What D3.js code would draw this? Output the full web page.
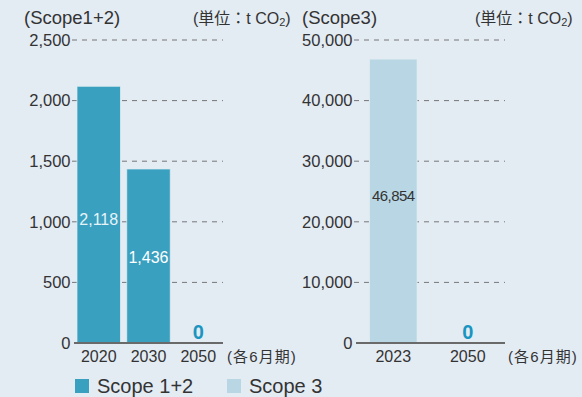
<!DOCTYPE html>
<html>
<head>
<meta charset="utf-8">
<script src="https://cdn.jsdelivr.net/npm/d3@7/dist/d3.min.js"></script>
<style>
  html, body { margin: 0; padding: 0; background: #e3ebf3; }
  svg { display: block; }
  text { font-family: "Liberation Sans", Arial, "Noto Sans CJK JP", sans-serif; }
</style>
</head>
<body>
<svg id="chart" width="582" height="397"></svg>
<script>
// Scope 1+2 emissions (t CO2), fiscal years ending June
const scope12Years = ["2020", "2030", "2050"];
const scope12Values = [2118, 1436, 0];
const scope12Ticks = [0, 500, 1000, 1500, 2000, 2500];

// Scope 3 emissions (t CO2)
const scope3Years = ["2023", "2050"];
const scope3Values = [46854, 0];
const scope3Ticks = [0, 10000, 20000, 30000, 40000, 50000];

const legendItems = ["Scope 1+2", "Scope 3"];

const BG = "#e3ebf3";
const COLOR12 = "#3aa0c0";
const COLOR3 = "#b8d6e3";
const ZERO_COLOR = "#1a95bf";
const TEXT = "#333";

const svg = d3.select("#chart");
svg.append("rect").attr("width", 582).attr("height", 397).attr("fill", BG);

const fmt = d3.format(",");
const yTop = 40, yBottom = 343;

function panel(opts) {
  const g = svg.append("g");
  const x = d3.scaleBand().domain(opts.years).range([opts.x0, opts.x1])
    .paddingInner(opts.pi).paddingOuter(opts.po);
  const y = d3.scaleLinear().domain([0, opts.max]).range([yBottom, yTop]);

  // dashed gridlines
  g.selectAll("line.grid").data(opts.ticks.filter(d => d > 0)).join("line")
    .attr("x1", opts.x0 - 2).attr("x2", opts.x1)
    .attr("y1", d => y(d)).attr("y2", d => y(d))
    .attr("stroke", "#777").attr("stroke-width", 1)
    .attr("stroke-dasharray", "5,5");

  // y axis labels
  const ax = d3.axisLeft(y).tickValues(opts.ticks).tickFormat(fmt).tickSize(0).tickPadding(0);
  const axg = g.append("g").attr("transform", `translate(${opts.labelX},0)`).call(ax);
  axg.select(".domain").remove();
  axg.selectAll("text").attr("font-size", 16.5).attr("fill", TEXT)
    .attr("font-family", "'Liberation Sans', Arial, sans-serif");

  // bars
  g.selectAll("rect.bar").data(opts.values.map((v, i) => ({ k: opts.years[i], v })).filter(d => d.v > 0))
    .join("rect")
    .attr("x", d => x(d.k)).attr("width", x.bandwidth())
    .attr("y", d => y(d.v)).attr("height", d => yBottom - y(d.v))
    .attr("fill", opts.color)
    .attr("stroke", "#e8f1f5").attr("stroke-width", 1).attr("stroke-opacity", 0.7);

  // baseline
  g.append("line").attr("x1", opts.x0).attr("x2", opts.x1)
    .attr("y1", yBottom).attr("y2", yBottom)
    .attr("stroke", "#6a6a6a").attr("stroke-width", 2);

  // category labels
  const xa = d3.axisBottom(x).tickSize(0).tickPadding(0);
  const xg = g.append("g").attr("transform", `translate(0,${yBottom})`).call(xa);
  xg.select(".domain").remove();
  xg.selectAll("text").attr("font-size", 16).attr("fill", TEXT)
    .attr("dy", null).attr("y", 19)
    .attr("font-family", "'Liberation Sans', Arial, sans-serif");

  // value labels
  opts.values.forEach((v, i) => {
    const cx = x(opts.years[i]) + x.bandwidth() / 2;
    if (v === 0) {
      g.append("text").attr("x", cx).attr("y", 338.5)
        .attr("text-anchor", "middle").attr("font-size", 20).attr("font-weight", "bold")
        .attr("fill", ZERO_COLOR).text("0");
    } else {
      const s = opts.labelStyle[i];
      g.append("text").attr("x", cx).attr("y", y(v / 2) + s.dy)
        .attr("text-anchor", "middle").attr("font-size", s.size)
        .attr("letter-spacing", s.ls)
        .attr("fill", s.color).text(fmt(v));
    }
  });

  // period note
  g.append("text").attr("x", opts.noteX).attr("y", 362)
    .attr("font-size", 15).attr("fill", TEXT).attr("letter-spacing", 1.1)
    .attr("font-family", "'Noto Sans CJK JP', sans-serif")
    .text("(各6月期)");

  // headers
  g.append("text").attr("x", opts.titleX).attr("y", 24)
    .attr("font-size", 18.5).attr("fill", TEXT).text(opts.title);
  const u = g.append("text").attr("x", opts.unitX).attr("y", 24)
    .attr("font-size", 16).attr("fill", TEXT);
  u.append("tspan").text("(");
  u.append("tspan").attr("font-family", "'Noto Sans CJK JP', sans-serif").text("単位：");
  u.append("tspan").text("t CO");
  u.append("tspan").attr("font-size", 11).attr("dy", 2).text("2");
  u.append("tspan").attr("dy", -2).text(")");
}

panel({
  years: scope12Years, values: scope12Values, ticks: scope12Ticks, max: 2500,
  x0: 74, x1: 223, pi: 0.125, po: 0.06, labelX: 70.5, color: COLOR12,
  noteX: 227, titleX: 24, title: "(Scope1+2)", unitX: 193,
  labelStyle: [
    { size: 16, dy: 10, ls: 0, color: "#e8f3f8" },
    { size: 16, dy: 7, ls: 0, color: "#ffffff" },
    null
  ]
});

panel({
  years: scope3Years, values: scope3Values, ticks: scope3Ticks, max: 50000,
  x0: 356, x1: 505, pi: 0.36, po: 0.18, labelX: 352.5, color: COLOR3,
  noteX: 508, titleX: 302, title: "(Scope3)", unitX: 475,
  labelStyle: [
    { size: 15, dy: 0, ls: -0.6, color: "#333" },
    null
  ]
});

// legend
const legend = svg.append("g");
const legendColors = [COLOR12, COLOR3];
const legendX = [75, 227];
legendItems.forEach((name, i) => {
  legend.append("rect").attr("x", legendX[i]).attr("y", 379).attr("width", 14).attr("height", 14)
    .attr("fill", legendColors[i]);
  legend.append("text").attr("x", legendX[i] + 22).attr("y", 393)
    .attr("font-size", 20).attr("fill", TEXT).text(name);
});
</script>
</body>
</html>
